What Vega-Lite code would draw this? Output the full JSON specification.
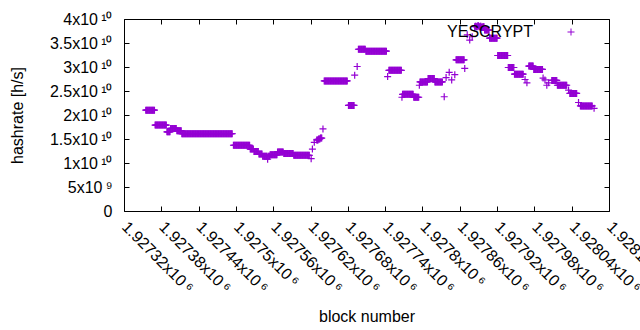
{
"$schema": "https://vega.github.io/schema/vega-lite/v6.json",
"width": 485, "height": 192,
"autosize": {"type": "none"},
"padding": {"left": 124, "top": 19, "right": 31, "bottom": 119},
"background": "white",
"config": {
  "font": "Liberation Sans",
  "view": {"stroke": "black", "strokeWidth": 1},
  "axis": {"grid": false, "domain": false, "tickColor": "black", "tickSize": -5, "labelColor": "black", "labelFont": "Liberation Sans", "labelFontSize": 16, "titleFont": "Liberation Sans", "titleFontSize": 16, "titleFontWeight": "normal", "titleColor": "black", "labelOverlap": false, "labelFlush": false, "labelBound": false}
},
"data": {"values": [
{"block":1927355,"hashrate":2.1e10},{"block":1927356,"hashrate":2.1e10},{"block":1927357,"hashrate":2.1e10},{"block":1927358,"hashrate":2.1e10},{"block":1927359,"hashrate":2.1e10},{"block":1927360,"hashrate":2.1e10},{"block":1927361,"hashrate":2.1e10},{"block":1927362,"hashrate":2.1e10},{"block":1927363,"hashrate":2.1e10},{"block":1927364,"hashrate":2.1e10},{"block":1927365,"hashrate":2.1e10},{"block":1927366,"hashrate":2.1e10},{"block":1927367,"hashrate":2.1e10},{"block":1927368,"hashrate":2.1e10},{"block":1927369,"hashrate":2.1e10},
{"block":1927370,"hashrate":1.79e10},{"block":1927371,"hashrate":1.79e10},{"block":1927372,"hashrate":1.79e10},{"block":1927373,"hashrate":1.79e10},{"block":1927374,"hashrate":1.79e10},{"block":1927375,"hashrate":1.79e10},{"block":1927376,"hashrate":1.79e10},{"block":1927377,"hashrate":1.79e10},{"block":1927378,"hashrate":1.79e10},{"block":1927379,"hashrate":1.79e10},{"block":1927380,"hashrate":1.79e10},{"block":1927381,"hashrate":1.79e10},{"block":1927382,"hashrate":1.79e10},{"block":1927383,"hashrate":1.79e10},{"block":1927384,"hashrate":1.79e10},{"block":1927385,"hashrate":1.79e10},{"block":1927386,"hashrate":1.79e10},{"block":1927387,"hashrate":1.79e10},{"block":1927388,"hashrate":1.79e10},
{"block":1927389,"hashrate":1.65e10},{"block":1927390,"hashrate":1.65e10},{"block":1927391,"hashrate":1.65e10},{"block":1927392,"hashrate":1.65e10},{"block":1927393,"hashrate":1.65e10},{"block":1927394,"hashrate":1.65e10},
{"block":1927395,"hashrate":1.72e10},{"block":1927396,"hashrate":1.72e10},{"block":1927397,"hashrate":1.72e10},{"block":1927398,"hashrate":1.72e10},{"block":1927399,"hashrate":1.72e10},{"block":1927400,"hashrate":1.72e10},{"block":1927401,"hashrate":1.72e10},{"block":1927402,"hashrate":1.72e10},{"block":1927403,"hashrate":1.72e10},{"block":1927404,"hashrate":1.72e10},
{"block":1927405,"hashrate":1.67e10},{"block":1927406,"hashrate":1.67e10},{"block":1927407,"hashrate":1.67e10},{"block":1927408,"hashrate":1.67e10},{"block":1927409,"hashrate":1.67e10},{"block":1927410,"hashrate":1.67e10},{"block":1927411,"hashrate":1.67e10},{"block":1927412,"hashrate":1.67e10},
{"block":1927413,"hashrate":1.61e10},{"block":1927414,"hashrate":1.61e10},{"block":1927415,"hashrate":1.61e10},{"block":1927416,"hashrate":1.61e10},{"block":1927417,"hashrate":1.61e10},{"block":1927418,"hashrate":1.61e10},{"block":1927419,"hashrate":1.61e10},{"block":1927420,"hashrate":1.61e10},{"block":1927421,"hashrate":1.61e10},{"block":1927422,"hashrate":1.61e10},{"block":1927423,"hashrate":1.61e10},{"block":1927424,"hashrate":1.61e10},{"block":1927425,"hashrate":1.61e10},{"block":1927426,"hashrate":1.61e10},{"block":1927427,"hashrate":1.61e10},{"block":1927428,"hashrate":1.61e10},{"block":1927429,"hashrate":1.61e10},{"block":1927430,"hashrate":1.61e10},{"block":1927431,"hashrate":1.61e10},{"block":1927432,"hashrate":1.61e10},{"block":1927433,"hashrate":1.61e10},{"block":1927434,"hashrate":1.61e10},{"block":1927435,"hashrate":1.61e10},{"block":1927436,"hashrate":1.61e10},{"block":1927437,"hashrate":1.61e10},{"block":1927438,"hashrate":1.61e10},{"block":1927439,"hashrate":1.61e10},{"block":1927440,"hashrate":1.61e10},{"block":1927441,"hashrate":1.61e10},{"block":1927442,"hashrate":1.61e10},{"block":1927443,"hashrate":1.61e10},{"block":1927444,"hashrate":1.61e10},{"block":1927445,"hashrate":1.61e10},{"block":1927446,"hashrate":1.61e10},{"block":1927447,"hashrate":1.61e10},{"block":1927448,"hashrate":1.61e10},{"block":1927449,"hashrate":1.61e10},{"block":1927450,"hashrate":1.61e10},{"block":1927451,"hashrate":1.61e10},{"block":1927452,"hashrate":1.61e10},{"block":1927453,"hashrate":1.61e10},{"block":1927454,"hashrate":1.61e10},{"block":1927455,"hashrate":1.61e10},{"block":1927456,"hashrate":1.61e10},{"block":1927457,"hashrate":1.61e10},{"block":1927458,"hashrate":1.61e10},{"block":1927459,"hashrate":1.61e10},{"block":1927460,"hashrate":1.61e10},{"block":1927461,"hashrate":1.61e10},{"block":1927462,"hashrate":1.61e10},{"block":1927463,"hashrate":1.61e10},{"block":1927464,"hashrate":1.61e10},{"block":1927465,"hashrate":1.61e10},{"block":1927466,"hashrate":1.61e10},{"block":1927467,"hashrate":1.61e10},{"block":1927468,"hashrate":1.61e10},{"block":1927469,"hashrate":1.61e10},{"block":1927470,"hashrate":1.61e10},{"block":1927471,"hashrate":1.61e10},{"block":1927472,"hashrate":1.61e10},{"block":1927473,"hashrate":1.61e10},{"block":1927474,"hashrate":1.61e10},{"block":1927475,"hashrate":1.61e10},{"block":1927476,"hashrate":1.61e10},{"block":1927477,"hashrate":1.61e10},{"block":1927478,"hashrate":1.61e10},{"block":1927479,"hashrate":1.61e10},{"block":1927480,"hashrate":1.61e10},{"block":1927481,"hashrate":1.61e10},{"block":1927482,"hashrate":1.61e10},{"block":1927483,"hashrate":1.61e10},{"block":1927484,"hashrate":1.61e10},{"block":1927485,"hashrate":1.61e10},{"block":1927486,"hashrate":1.61e10},{"block":1927487,"hashrate":1.61e10},{"block":1927488,"hashrate":1.61e10},{"block":1927489,"hashrate":1.61e10},{"block":1927490,"hashrate":1.61e10},{"block":1927491,"hashrate":1.61e10},{"block":1927492,"hashrate":1.61e10},{"block":1927493,"hashrate":1.61e10},{"block":1927494,"hashrate":1.61e10},
{"block":1927496,"hashrate":1.37e10},{"block":1927497,"hashrate":1.37e10},{"block":1927498,"hashrate":1.37e10},{"block":1927499,"hashrate":1.37e10},{"block":1927500,"hashrate":1.37e10},{"block":1927501,"hashrate":1.37e10},{"block":1927502,"hashrate":1.37e10},{"block":1927503,"hashrate":1.37e10},{"block":1927504,"hashrate":1.37e10},{"block":1927505,"hashrate":1.37e10},{"block":1927506,"hashrate":1.37e10},{"block":1927507,"hashrate":1.37e10},{"block":1927508,"hashrate":1.37e10},{"block":1927509,"hashrate":1.37e10},{"block":1927510,"hashrate":1.37e10},{"block":1927511,"hashrate":1.37e10},{"block":1927512,"hashrate":1.37e10},{"block":1927513,"hashrate":1.37e10},{"block":1927514,"hashrate":1.37e10},{"block":1927515,"hashrate":1.37e10},{"block":1927516,"hashrate":1.37e10},{"block":1927517,"hashrate":1.37e10},{"block":1927518,"hashrate":1.37e10},{"block":1927519,"hashrate":1.37e10},{"block":1927520,"hashrate":1.37e10},{"block":1927521,"hashrate":1.37e10},{"block":1927522,"hashrate":1.37e10},
{"block":1927523,"hashrate":1.29e10},{"block":1927524,"hashrate":1.29e10},{"block":1927525,"hashrate":1.29e10},{"block":1927526,"hashrate":1.29e10},{"block":1927527,"hashrate":1.29e10},{"block":1927528,"hashrate":1.29e10},
{"block":1927529,"hashrate":1.24e10},{"block":1927530,"hashrate":1.24e10},{"block":1927531,"hashrate":1.24e10},{"block":1927532,"hashrate":1.24e10},{"block":1927533,"hashrate":1.24e10},{"block":1927534,"hashrate":1.24e10},{"block":1927535,"hashrate":1.24e10},{"block":1927536,"hashrate":1.24e10},
{"block":1927537,"hashrate":1.19e10},{"block":1927538,"hashrate":1.19e10},{"block":1927539,"hashrate":1.19e10},{"block":1927540,"hashrate":1.19e10},{"block":1927541,"hashrate":1.19e10},{"block":1927542,"hashrate":1.19e10},
{"block":1927543,"hashrate":1.14e10},{"block":1927544,"hashrate":1.14e10},{"block":1927545,"hashrate":1.14e10},{"block":1927546,"hashrate":1.14e10},{"block":1927547,"hashrate":1.14e10},{"block":1927548,"hashrate":1.14e10},{"block":1927549,"hashrate":1.14e10},{"block":1927550,"hashrate":1.14e10},{"block":1927552,"hashrate":1.14e10},{"block":1927553,"hashrate":1.14e10},{"block":1927554,"hashrate":1.14e10},
{"block":1927551,"hashrate":1.08e10},
{"block":1927555,"hashrate":1.17e10},{"block":1927556,"hashrate":1.17e10},{"block":1927557,"hashrate":1.17e10},{"block":1927558,"hashrate":1.17e10},{"block":1927559,"hashrate":1.17e10},{"block":1927560,"hashrate":1.17e10},{"block":1927561,"hashrate":1.17e10},{"block":1927562,"hashrate":1.17e10},{"block":1927563,"hashrate":1.17e10},{"block":1927564,"hashrate":1.17e10},{"block":1927565,"hashrate":1.17e10},{"block":1927566,"hashrate":1.17e10},
{"block":1927567,"hashrate":1.23e10},{"block":1927568,"hashrate":1.23e10},{"block":1927569,"hashrate":1.23e10},{"block":1927570,"hashrate":1.23e10},{"block":1927571,"hashrate":1.23e10},{"block":1927572,"hashrate":1.23e10},{"block":1927573,"hashrate":1.23e10},{"block":1927574,"hashrate":1.23e10},{"block":1927575,"hashrate":1.23e10},{"block":1927576,"hashrate":1.23e10},
{"block":1927577,"hashrate":1.2e10},{"block":1927578,"hashrate":1.2e10},{"block":1927579,"hashrate":1.2e10},{"block":1927580,"hashrate":1.2e10},{"block":1927581,"hashrate":1.2e10},{"block":1927582,"hashrate":1.2e10},{"block":1927583,"hashrate":1.2e10},{"block":1927584,"hashrate":1.2e10},{"block":1927585,"hashrate":1.2e10},{"block":1927586,"hashrate":1.2e10},{"block":1927587,"hashrate":1.2e10},{"block":1927588,"hashrate":1.2e10},{"block":1927589,"hashrate":1.2e10},{"block":1927590,"hashrate":1.2e10},{"block":1927591,"hashrate":1.2e10},{"block":1927592,"hashrate":1.2e10},
{"block":1927593,"hashrate":1.16e10},{"block":1927594,"hashrate":1.16e10},{"block":1927595,"hashrate":1.16e10},{"block":1927596,"hashrate":1.16e10},{"block":1927597,"hashrate":1.16e10},{"block":1927598,"hashrate":1.16e10},{"block":1927599,"hashrate":1.16e10},{"block":1927600,"hashrate":1.16e10},{"block":1927601,"hashrate":1.16e10},{"block":1927602,"hashrate":1.16e10},{"block":1927603,"hashrate":1.16e10},{"block":1927604,"hashrate":1.16e10},{"block":1927605,"hashrate":1.16e10},{"block":1927606,"hashrate":1.16e10},{"block":1927607,"hashrate":1.16e10},{"block":1927608,"hashrate":1.16e10},{"block":1927609,"hashrate":1.16e10},{"block":1927610,"hashrate":1.16e10},{"block":1927611,"hashrate":1.16e10},{"block":1927612,"hashrate":1.16e10},{"block":1927613,"hashrate":1.16e10},{"block":1927614,"hashrate":1.16e10},{"block":1927615,"hashrate":1.16e10},{"block":1927616,"hashrate":1.16e10},{"block":1927617,"hashrate":1.16e10},{"block":1927618,"hashrate":1.16e10},
{"block":1927621,"hashrate":1.09e10},
{"block":1927623,"hashrate":1.29e10},
{"block":1927626,"hashrate":1.43e10},
{"block":1927630,"hashrate":1.48e10},{"block":1927631,"hashrate":1.48e10},{"block":1927632,"hashrate":1.48e10},{"block":1927633,"hashrate":1.5e10},{"block":1927634,"hashrate":1.5e10},{"block":1927635,"hashrate":1.5e10},{"block":1927636,"hashrate":1.52e10},{"block":1927637,"hashrate":1.52e10},{"block":1927638,"hashrate":1.52e10},
{"block":1927640,"hashrate":1.71e10},
{"block":1927642,"hashrate":2.71e10},{"block":1927643,"hashrate":2.71e10},{"block":1927644,"hashrate":2.71e10},{"block":1927645,"hashrate":2.71e10},{"block":1927646,"hashrate":2.71e10},{"block":1927647,"hashrate":2.71e10},{"block":1927648,"hashrate":2.71e10},{"block":1927649,"hashrate":2.71e10},{"block":1927650,"hashrate":2.71e10},{"block":1927651,"hashrate":2.71e10},{"block":1927652,"hashrate":2.71e10},{"block":1927653,"hashrate":2.71e10},{"block":1927654,"hashrate":2.71e10},{"block":1927655,"hashrate":2.71e10},{"block":1927656,"hashrate":2.71e10},{"block":1927657,"hashrate":2.71e10},{"block":1927658,"hashrate":2.71e10},{"block":1927659,"hashrate":2.71e10},{"block":1927660,"hashrate":2.71e10},{"block":1927661,"hashrate":2.71e10},{"block":1927662,"hashrate":2.71e10},{"block":1927663,"hashrate":2.71e10},{"block":1927664,"hashrate":2.71e10},{"block":1927665,"hashrate":2.71e10},{"block":1927666,"hashrate":2.71e10},{"block":1927667,"hashrate":2.71e10},{"block":1927668,"hashrate":2.71e10},{"block":1927669,"hashrate":2.71e10},{"block":1927670,"hashrate":2.71e10},{"block":1927671,"hashrate":2.71e10},{"block":1927672,"hashrate":2.71e10},{"block":1927673,"hashrate":2.71e10},{"block":1927674,"hashrate":2.71e10},{"block":1927675,"hashrate":2.71e10},{"block":1927676,"hashrate":2.71e10},{"block":1927677,"hashrate":2.71e10},{"block":1927678,"hashrate":2.71e10},{"block":1927679,"hashrate":2.71e10},
{"block":1927681,"hashrate":2.2e10},{"block":1927682,"hashrate":2.2e10},{"block":1927683,"hashrate":2.2e10},{"block":1927684,"hashrate":2.2e10},{"block":1927685,"hashrate":2.2e10},{"block":1927686,"hashrate":2.2e10},{"block":1927687,"hashrate":2.2e10},{"block":1927688,"hashrate":2.2e10},{"block":1927689,"hashrate":2.2e10},{"block":1927690,"hashrate":2.2e10},
{"block":1927691,"hashrate":2.83e10},
{"block":1927695,"hashrate":3.01e10},
{"block":1927697,"hashrate":3.37e10},{"block":1927698,"hashrate":3.37e10},{"block":1927699,"hashrate":3.37e10},{"block":1927700,"hashrate":3.37e10},{"block":1927701,"hashrate":3.37e10},{"block":1927702,"hashrate":3.37e10},{"block":1927703,"hashrate":3.37e10},{"block":1927704,"hashrate":3.37e10},{"block":1927705,"hashrate":3.37e10},{"block":1927706,"hashrate":3.37e10},{"block":1927707,"hashrate":3.37e10},{"block":1927708,"hashrate":3.37e10},
{"block":1927709,"hashrate":3.33e10},{"block":1927710,"hashrate":3.33e10},{"block":1927711,"hashrate":3.33e10},{"block":1927712,"hashrate":3.33e10},{"block":1927713,"hashrate":3.33e10},{"block":1927714,"hashrate":3.33e10},{"block":1927715,"hashrate":3.33e10},{"block":1927716,"hashrate":3.33e10},{"block":1927717,"hashrate":3.33e10},{"block":1927718,"hashrate":3.33e10},{"block":1927719,"hashrate":3.33e10},{"block":1927720,"hashrate":3.33e10},{"block":1927721,"hashrate":3.33e10},{"block":1927722,"hashrate":3.33e10},{"block":1927723,"hashrate":3.33e10},{"block":1927724,"hashrate":3.33e10},{"block":1927725,"hashrate":3.33e10},{"block":1927726,"hashrate":3.33e10},{"block":1927727,"hashrate":3.33e10},{"block":1927728,"hashrate":3.33e10},{"block":1927729,"hashrate":3.33e10},{"block":1927730,"hashrate":3.33e10},{"block":1927731,"hashrate":3.33e10},{"block":1927732,"hashrate":3.33e10},{"block":1927733,"hashrate":3.33e10},{"block":1927734,"hashrate":3.33e10},{"block":1927735,"hashrate":3.33e10},{"block":1927736,"hashrate":3.33e10},{"block":1927737,"hashrate":3.33e10},{"block":1927738,"hashrate":3.33e10},{"block":1927739,"hashrate":3.33e10},{"block":1927740,"hashrate":3.33e10},{"block":1927741,"hashrate":3.33e10},{"block":1927742,"hashrate":3.33e10},
{"block":1927744,"hashrate":2.8e10},
{"block":1927746,"hashrate":2.93e10},{"block":1927747,"hashrate":2.93e10},{"block":1927748,"hashrate":2.93e10},{"block":1927749,"hashrate":2.93e10},{"block":1927750,"hashrate":2.93e10},{"block":1927751,"hashrate":2.93e10},{"block":1927752,"hashrate":2.93e10},{"block":1927753,"hashrate":2.93e10},{"block":1927754,"hashrate":2.93e10},{"block":1927755,"hashrate":2.93e10},{"block":1927756,"hashrate":2.93e10},{"block":1927757,"hashrate":2.93e10},{"block":1927758,"hashrate":2.93e10},{"block":1927759,"hashrate":2.93e10},{"block":1927760,"hashrate":2.93e10},{"block":1927761,"hashrate":2.93e10},{"block":1927762,"hashrate":2.93e10},{"block":1927763,"hashrate":2.93e10},{"block":1927764,"hashrate":2.93e10},{"block":1927765,"hashrate":2.93e10},{"block":1927766,"hashrate":2.93e10},
{"block":1927767,"hashrate":2.37e10},
{"block":1927768,"hashrate":2.43e10},{"block":1927769,"hashrate":2.43e10},{"block":1927770,"hashrate":2.43e10},{"block":1927771,"hashrate":2.43e10},{"block":1927772,"hashrate":2.43e10},{"block":1927773,"hashrate":2.43e10},{"block":1927774,"hashrate":2.43e10},{"block":1927775,"hashrate":2.43e10},{"block":1927776,"hashrate":2.43e10},{"block":1927777,"hashrate":2.43e10},{"block":1927778,"hashrate":2.43e10},{"block":1927779,"hashrate":2.43e10},{"block":1927780,"hashrate":2.43e10},{"block":1927781,"hashrate":2.43e10},{"block":1927782,"hashrate":2.43e10},{"block":1927783,"hashrate":2.43e10},{"block":1927784,"hashrate":2.43e10},{"block":1927785,"hashrate":2.43e10},
{"block":1927786,"hashrate":2.37e10},{"block":1927787,"hashrate":2.37e10},{"block":1927788,"hashrate":2.37e10},{"block":1927789,"hashrate":2.37e10},{"block":1927790,"hashrate":2.37e10},{"block":1927791,"hashrate":2.37e10},{"block":1927792,"hashrate":2.37e10},{"block":1927793,"hashrate":2.37e10},{"block":1927794,"hashrate":2.37e10},
{"block":1927795,"hashrate":2.62e10},
{"block":1927796,"hashrate":2.69e10},{"block":1927797,"hashrate":2.69e10},{"block":1927798,"hashrate":2.69e10},{"block":1927799,"hashrate":2.69e10},{"block":1927800,"hashrate":2.69e10},{"block":1927801,"hashrate":2.69e10},{"block":1927802,"hashrate":2.69e10},{"block":1927803,"hashrate":2.69e10},{"block":1927804,"hashrate":2.69e10},{"block":1927805,"hashrate":2.69e10},{"block":1927806,"hashrate":2.69e10},{"block":1927807,"hashrate":2.69e10},{"block":1927808,"hashrate":2.69e10},
{"block":1927809,"hashrate":2.76e10},{"block":1927810,"hashrate":2.76e10},{"block":1927811,"hashrate":2.76e10},{"block":1927812,"hashrate":2.76e10},{"block":1927813,"hashrate":2.76e10},{"block":1927814,"hashrate":2.76e10},{"block":1927815,"hashrate":2.76e10},{"block":1927816,"hashrate":2.76e10},{"block":1927817,"hashrate":2.76e10},{"block":1927818,"hashrate":2.76e10},{"block":1927819,"hashrate":2.76e10},
{"block":1927820,"hashrate":2.69e10},{"block":1927821,"hashrate":2.69e10},{"block":1927822,"hashrate":2.69e10},{"block":1927823,"hashrate":2.69e10},{"block":1927824,"hashrate":2.69e10},{"block":1927825,"hashrate":2.69e10},{"block":1927826,"hashrate":2.69e10},{"block":1927827,"hashrate":2.69e10},{"block":1927828,"hashrate":2.69e10},{"block":1927829,"hashrate":2.69e10},{"block":1927830,"hashrate":2.69e10},{"block":1927831,"hashrate":2.69e10},{"block":1927832,"hashrate":2.69e10},
{"block":1927835,"hashrate":2.38e10},
{"block":1927838,"hashrate":2.78e10},
{"block":1927843,"hashrate":2.89e10},
{"block":1927847,"hashrate":2.73e10},
{"block":1927852,"hashrate":2.84e10},
{"block":1927854,"hashrate":3.15e10},{"block":1927855,"hashrate":3.15e10},{"block":1927856,"hashrate":3.15e10},{"block":1927857,"hashrate":3.15e10},{"block":1927858,"hashrate":3.15e10},{"block":1927859,"hashrate":3.15e10},{"block":1927860,"hashrate":3.15e10},{"block":1927861,"hashrate":3.15e10},{"block":1927862,"hashrate":3.15e10},{"block":1927863,"hashrate":3.15e10},{"block":1927864,"hashrate":3.15e10},{"block":1927865,"hashrate":3.15e10},{"block":1927866,"hashrate":3.15e10},{"block":1927867,"hashrate":3.15e10},
{"block":1927868,"hashrate":2.97e10},
{"block":1927872,"hashrate":3.67e10},
{"block":1927876,"hashrate":3.56e10},
{"block":1927880,"hashrate":3.63e10},
{"block":1927884,"hashrate":3.84e10},{"block":1927885,"hashrate":3.85e10},{"block":1927886,"hashrate":3.85e10},{"block":1927887,"hashrate":3.84e10},{"block":1927888,"hashrate":3.84e10},{"block":1927889,"hashrate":3.86e10},{"block":1927890,"hashrate":3.86e10},{"block":1927891,"hashrate":3.84e10},{"block":1927892,"hashrate":3.84e10},{"block":1927893,"hashrate":3.85e10},{"block":1927894,"hashrate":3.85e10},{"block":1927895,"hashrate":3.83e10},{"block":1927896,"hashrate":3.83e10},{"block":1927897,"hashrate":3.84e10},{"block":1927898,"hashrate":3.84e10},{"block":1927899,"hashrate":3.84e10},
{"block":1927900,"hashrate":3.77e10},{"block":1927901,"hashrate":3.77e10},{"block":1927902,"hashrate":3.77e10},{"block":1927903,"hashrate":3.77e10},{"block":1927904,"hashrate":3.77e10},{"block":1927905,"hashrate":3.77e10},{"block":1927906,"hashrate":3.77e10},{"block":1927907,"hashrate":3.77e10},
{"block":1927908,"hashrate":3.6e10},{"block":1927909,"hashrate":3.6e10},{"block":1927910,"hashrate":3.6e10},{"block":1927911,"hashrate":3.6e10},{"block":1927912,"hashrate":3.6e10},{"block":1927913,"hashrate":3.6e10},{"block":1927914,"hashrate":3.6e10},{"block":1927915,"hashrate":3.6e10},{"block":1927916,"hashrate":3.6e10},{"block":1927917,"hashrate":3.6e10},{"block":1927918,"hashrate":3.6e10},{"block":1927919,"hashrate":3.6e10},{"block":1927920,"hashrate":3.6e10},
{"block":1927921,"hashrate":3.24e10},{"block":1927922,"hashrate":3.24e10},{"block":1927923,"hashrate":3.24e10},{"block":1927924,"hashrate":3.24e10},{"block":1927925,"hashrate":3.24e10},{"block":1927926,"hashrate":3.24e10},{"block":1927927,"hashrate":3.24e10},{"block":1927928,"hashrate":3.24e10},{"block":1927929,"hashrate":3.24e10},{"block":1927930,"hashrate":3.24e10},{"block":1927931,"hashrate":3.24e10},{"block":1927932,"hashrate":3.24e10},{"block":1927933,"hashrate":3.24e10},{"block":1927934,"hashrate":3.24e10},{"block":1927935,"hashrate":3.24e10},{"block":1927936,"hashrate":3.24e10},{"block":1927937,"hashrate":3.24e10},
{"block":1927938,"hashrate":2.99e10},{"block":1927939,"hashrate":2.99e10},{"block":1927940,"hashrate":2.99e10},{"block":1927941,"hashrate":2.99e10},{"block":1927942,"hashrate":2.99e10},{"block":1927943,"hashrate":2.99e10},{"block":1927944,"hashrate":2.99e10},{"block":1927945,"hashrate":2.99e10},{"block":1927946,"hashrate":2.99e10},{"block":1927947,"hashrate":2.99e10},
{"block":1927948,"hashrate":2.85e10},{"block":1927949,"hashrate":2.85e10},{"block":1927950,"hashrate":2.85e10},{"block":1927951,"hashrate":2.85e10},{"block":1927952,"hashrate":2.85e10},{"block":1927953,"hashrate":2.85e10},{"block":1927954,"hashrate":2.85e10},{"block":1927955,"hashrate":2.85e10},{"block":1927956,"hashrate":2.85e10},{"block":1927957,"hashrate":2.85e10},{"block":1927958,"hashrate":2.85e10},{"block":1927959,"hashrate":2.85e10},{"block":1927960,"hashrate":2.85e10},{"block":1927961,"hashrate":2.85e10},{"block":1927962,"hashrate":2.85e10},
{"block":1927965,"hashrate":2.74e10},{"block":1927968,"hashrate":2.67e10},
{"block":1927971,"hashrate":3.02e10},{"block":1927972,"hashrate":3.02e10},{"block":1927973,"hashrate":3.02e10},{"block":1927974,"hashrate":3.02e10},{"block":1927975,"hashrate":3.02e10},{"block":1927976,"hashrate":3.02e10},{"block":1927977,"hashrate":3.02e10},{"block":1927978,"hashrate":3.02e10},
{"block":1927979,"hashrate":2.95e10},{"block":1927980,"hashrate":2.95e10},{"block":1927981,"hashrate":2.95e10},{"block":1927982,"hashrate":2.95e10},{"block":1927983,"hashrate":2.95e10},{"block":1927984,"hashrate":2.95e10},{"block":1927985,"hashrate":2.95e10},{"block":1927986,"hashrate":2.95e10},{"block":1927987,"hashrate":2.95e10},{"block":1927988,"hashrate":2.95e10},{"block":1927989,"hashrate":2.95e10},{"block":1927990,"hashrate":2.95e10},{"block":1927991,"hashrate":2.95e10},{"block":1927992,"hashrate":2.95e10},{"block":1927993,"hashrate":2.95e10},
{"block":1927994,"hashrate":2.77e10},{"block":1927997,"hashrate":2.73e10},
{"block":1928000,"hashrate":2.62e10},{"block":1928003,"hashrate":2.67e10},
{"block":1928008,"hashrate":2.72e10},{"block":1928009,"hashrate":2.72e10},{"block":1928010,"hashrate":2.72e10},{"block":1928011,"hashrate":2.72e10},{"block":1928012,"hashrate":2.72e10},{"block":1928013,"hashrate":2.72e10},{"block":1928014,"hashrate":2.72e10},{"block":1928015,"hashrate":2.72e10},{"block":1928016,"hashrate":2.72e10},
{"block":1928017,"hashrate":2.62e10},{"block":1928018,"hashrate":2.62e10},{"block":1928019,"hashrate":2.62e10},{"block":1928020,"hashrate":2.62e10},{"block":1928021,"hashrate":2.62e10},{"block":1928022,"hashrate":2.62e10},{"block":1928023,"hashrate":2.62e10},{"block":1928024,"hashrate":2.62e10},{"block":1928025,"hashrate":2.62e10},{"block":1928026,"hashrate":2.62e10},{"block":1928027,"hashrate":2.62e10},{"block":1928028,"hashrate":2.62e10},{"block":1928029,"hashrate":2.62e10},{"block":1928030,"hashrate":2.62e10},{"block":1928031,"hashrate":2.62e10},{"block":1928032,"hashrate":2.62e10},
{"block":1928035,"hashrate":2.52e10},
{"block":1928037,"hashrate":2.45e10},{"block":1928038,"hashrate":2.45e10},{"block":1928039,"hashrate":2.45e10},{"block":1928040,"hashrate":2.45e10},{"block":1928041,"hashrate":2.45e10},{"block":1928042,"hashrate":2.45e10},{"block":1928043,"hashrate":2.45e10},{"block":1928044,"hashrate":2.45e10},{"block":1928045,"hashrate":2.45e10},{"block":1928046,"hashrate":2.45e10},{"block":1928047,"hashrate":2.45e10},{"block":1928048,"hashrate":2.45e10},
{"block":1928051,"hashrate":2.26e10},
{"block":1928054,"hashrate":2.19e10},{"block":1928055,"hashrate":2.19e10},{"block":1928056,"hashrate":2.19e10},{"block":1928057,"hashrate":2.19e10},{"block":1928058,"hashrate":2.19e10},{"block":1928059,"hashrate":2.19e10},{"block":1928060,"hashrate":2.19e10},{"block":1928061,"hashrate":2.19e10},{"block":1928062,"hashrate":2.19e10},{"block":1928063,"hashrate":2.19e10},{"block":1928064,"hashrate":2.19e10},{"block":1928065,"hashrate":2.19e10},{"block":1928066,"hashrate":2.19e10},{"block":1928067,"hashrate":2.19e10},{"block":1928068,"hashrate":2.19e10},{"block":1928069,"hashrate":2.19e10},{"block":1928070,"hashrate":2.19e10},{"block":1928071,"hashrate":2.19e10},{"block":1928072,"hashrate":2.19e10},{"block":1928073,"hashrate":2.19e10},
{"block":1928076,"hashrate":2.14e10}
]},
"layer": [
  {
    "mark": {"type": "point", "shape": "M-1,0L1,0M0,-1L0,1", "size": 49, "filled": false, "strokeWidth": 1.2, "opacity": 1},
    "encoding": {
      "x": {"field": "block", "type": "quantitative",
        "scale": {"domain": [1927320, 1928100], "nice": false, "zero": false},
        "axis": {"title": "block number", "values": [1927320,1927380,1927440,1927500,1927560,1927620,1927680,1927740,1927800,1927860,1927920,1927980,1928040,1928100],
          "labelAngle": 45, "labelAlign": "left", "labelBaseline": "middle", "labelPadding": 18,
          "labelExpr": "format(datum.value/1e6, '.6~g') + 'x10\u2009⁶'", "titlePadding": 13}},
      "y": {"field": "hashrate", "type": "quantitative",
        "scale": {"domain": [0, 40000000000], "nice": false, "zero": true},
        "axis": {"title": "hashrate [h/s]", "values": [0,5000000000,10000000000,15000000000,20000000000,25000000000,30000000000,35000000000,40000000000],
          "labelPadding": 17, "labelBaseline": "middle",
          "labelExpr": "datum.value == 0 ? '0' : (datum.value < 1e10 ? (datum.value/1e9) + 'x10\u2009⁹' : (datum.value/1e10) + 'x10\u2009¹⁰')", "titlePadding": 24}},
      "color": {"datum": "YESCRYPT", "scale": {"range": ["#9400D3"]},
        "legend": {"title": null, "orient": "none", "legendX": 439, "legendY": 5, "padding": 0,
          "symbolType": "M-1,0L1,0M0,-1L0,1", "symbolSize": 49, "symbolStrokeWidth": 1, "symbolFillColor": "transparent", "symbolStrokeColor": "#9400D3", "symbolOpacity": 1,
          "labelAlign": "right", "labelOffset": -46, "labelFontSize": 16, "labelFont": "Liberation Sans", "labelColor": "black", "labelLimit": 300}}
    }
  },
  {
    "mark": {"type": "point", "opacity": 0},
    "encoding": {
      "x": {"field": "block", "type": "quantitative", "axis": {"orient": "top", "labels": false, "title": null, "values": [1927320,1927380,1927440,1927500,1927560,1927620,1927680,1927740,1927800,1927860,1927920,1927980,1928040,1928100]}},
      "y": {"field": "hashrate", "type": "quantitative", "axis": {"orient": "right", "labels": false, "title": null, "values": [0,5000000000,10000000000,15000000000,20000000000,25000000000,30000000000,35000000000,40000000000]}}
    }
  }
],
"resolve": {"axis": {"x": "independent", "y": "independent"}}
}
